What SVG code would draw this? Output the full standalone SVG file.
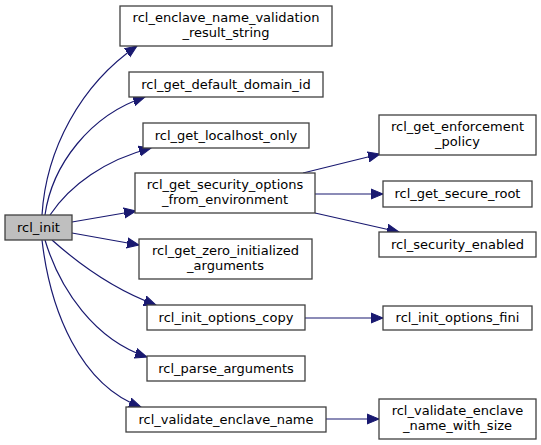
<svg xmlns="http://www.w3.org/2000/svg" width="541" height="445" viewBox="0 0 541 445">
<style>
.n rect{fill:#fff;stroke:#404040;stroke-width:1.3}
.n text{font-family:"DejaVu Sans",sans-serif;font-size:13px;fill:#000;text-anchor:middle}
.e path{fill:none;stroke:#191970;stroke-width:1.2}
</style>
<defs>
<marker id="a" markerUnits="userSpaceOnUse" markerWidth="14" markerHeight="12" refX="12" refY="5" orient="auto" viewBox="0 0 14 10">
<path d="M0,0 L12,5 L0,10 Z" fill="#191970" stroke="#191970"/>
</marker>
</defs>
<rect width="541" height="445" fill="#fff"/>
<g class="e">
<path d="M42,215 C46,150 80,85 137,46" marker-end="url(#a)"/>
<path d="M45,215 C52,165 90,115 145,97" marker-end="url(#a)"/>
<path d="M50,215 C70,185 105,160 151,148" marker-end="url(#a)"/>
<path d="M72,222 L136,211" marker-end="url(#a)"/>
<path d="M72,233 L139,245" marker-end="url(#a)"/>
<path d="M52,240 C80,265 115,290 156,305" marker-end="url(#a)"/>
<path d="M45,240 C60,290 95,340 147,357" marker-end="url(#a)"/>
<path d="M42,240 C50,310 80,385 141,407" marker-end="url(#a)"/>
<path d="M303,173 L380,154" marker-end="url(#a)"/>
<path d="M315,194 L383,194" marker-end="url(#a)"/>
<path d="M315,213 L399,232" marker-end="url(#a)"/>
<path d="M305,318 L383,318" marker-end="url(#a)"/>
<path d="M326,419 L379,419" marker-end="url(#a)"/>
</g>
<g id="rcl_init" class="n"><rect x="5" y="215" width="67" height="25" style="fill:#bfbfbf"/><text x="38.5" y="232">rcl_init</text></g>
<g id="n1" class="n"><rect x="120" y="6" width="212" height="40"/><text x="226" y="22">rcl_enclave_name_validation</text><text x="226" y="37">_result_string</text></g>
<g id="n2" class="n"><rect x="129" y="72" width="194" height="25"/><text x="226" y="89">rcl_get_default_domain_id</text></g>
<g id="n3" class="n"><rect x="143" y="123" width="166" height="25"/><text x="226" y="140">rcl_get_localhost_only</text></g>
<g id="n4" class="n"><rect x="135" y="173" width="180" height="40"/><text x="225" y="189">rcl_get_security_options</text><text x="225" y="204">_from_environment</text></g>
<g id="n5" class="n"><rect x="139" y="239" width="173" height="40"/><text x="225.5" y="255">rcl_get_zero_initialized</text><text x="225.5" y="270">_arguments</text></g>
<g id="n6" class="n"><rect x="147" y="305" width="158" height="25"/><text x="226" y="322">rcl_init_options_copy</text></g>
<g id="n7" class="n"><rect x="147" y="356" width="158" height="25"/><text x="226" y="373">rcl_parse_arguments</text></g>
<g id="n8" class="n"><rect x="126" y="407" width="200" height="25"/><text x="226" y="424">rcl_validate_enclave_name</text></g>
<g id="n9" class="n"><rect x="379" y="115" width="157" height="40"/><text x="457.5" y="131">rcl_get_enforcement</text><text x="457.5" y="146">_policy</text></g>
<g id="n10" class="n"><rect x="383" y="181" width="149" height="26"/><text x="457.5" y="198">rcl_get_secure_root</text></g>
<g id="n11" class="n"><rect x="379" y="232" width="157" height="25"/><text x="457.5" y="249">rcl_security_enabled</text></g>
<g id="n12" class="n"><rect x="383" y="306" width="149" height="24"/><text x="457.5" y="322">rcl_init_options_fini</text></g>
<g id="n13" class="n"><rect x="379" y="399" width="157" height="40"/><text x="457.5" y="415">rcl_validate_enclave</text><text x="457.5" y="430">_name_with_size</text></g>
</svg>
